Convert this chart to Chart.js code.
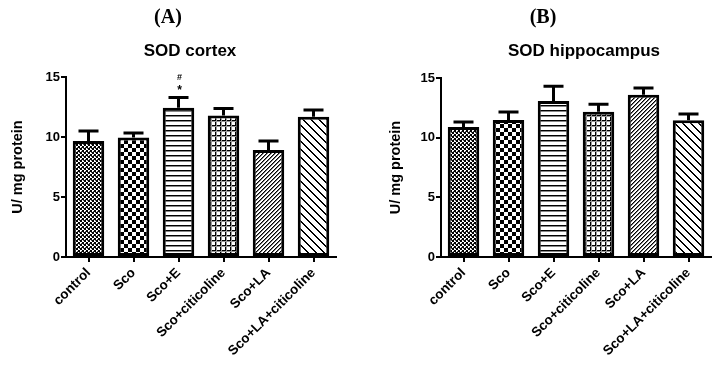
<!DOCTYPE html>
<html>
<head>
<meta charset="utf-8">
<script src="https://cdn.jsdelivr.net/npm/chart.js@4.4.1/dist/chart.umd.min.js"></script>
<style>
  html, body { margin: 0; padding: 0; background: #fff; }
  #wrap { position: relative; width: 723px; height: 365px; overflow: hidden; }
  canvas { position: absolute; top: 0; }
  .panel, .title { position: absolute; transform: translate(-50%, -50%); white-space: nowrap; color: #000; }
  .panel { font: bold 20px "Liberation Serif", "DejaVu Serif", serif; }
  .title { font: bold 17px "Liberation Sans", Arial, sans-serif; }
</style>
</head>
<body>
<div id="wrap">
  <canvas id="cortex" width="360" height="365" style="left:0"></canvas>
  <canvas id="hippo" width="363" height="365" style="left:360px"></canvas>
  <div class="panel" style="left:168px; top:16px">(A)</div>
  <div class="panel" style="left:543px; top:16px">(B)</div>
  <div class="title" style="left:190px; top:51px">SOD cortex</div>
  <div class="title" style="left:584px; top:51px">SOD hippocampus</div>
</div>
<script>
document.addEventListener("DOMContentLoaded", function(event) {
if (typeof Chart === 'undefined') {
  console.error('Chart.js is not loaded.');
  return;
}

// data
const categories = ['control', 'Sco', 'Sco+E', 'Sco+citicoline', 'Sco+LA', 'Sco+LA+citicoline'];
const cortexMeans = [9.67, 9.95, 12.43, 11.79, 8.92, 11.68];
const cortexErrors = [0.83, 0.39, 0.87, 0.58, 0.75, 0.58];
const cortexMarks = [[], [], ['*', '#'], [], [], []];
const hippoMeans = [10.89, 11.48, 13.07, 12.17, 13.60, 11.45];
const hippoErrors = [0.42, 0.67, 1.23, 0.62, 0.56, 0.53];
const hippoMarks = [[], [], [], [], [], []];
const yTicks = [0, 5, 10, 15];
const yTitle = 'U/ mg protein';

// fill patterns, one per group
function makePattern(w, h, draw) {
  const c = document.createElement('canvas');
  c.width = w;
  c.height = h;
  const g = c.getContext('2d');
  g.fillStyle = '#fff';
  g.fillRect(0, 0, w, h);
  g.fillStyle = '#000';
  draw(g);
  return g.createPattern(c, 'repeat');
}

const patterns = [
  makePattern(4, 4, g => {
    g.fillRect(0, 0, 2, 2);
    g.fillRect(2, 2, 2, 2);
    g.fillStyle = '#555';
    g.fillRect(3, 0, 1, 1);
    g.fillRect(1, 3, 1, 1);
  }),
  makePattern(8, 8, g => {
    g.fillRect(0, 0, 4, 4);
    g.fillRect(4, 4, 4, 4);
  }),
  makePattern(4, 5, g => {
    g.fillRect(0, 0, 4, 1);
    g.fillStyle = '#888';
    g.fillRect(0, 1, 4, 1);
  }),
  makePattern(5, 5, g => {
    g.fillRect(0, 0, 5, 1);
    g.fillRect(0, 0, 1, 5);
    g.fillStyle = '#999';
    g.fillRect(0, 1, 5, 1);
    g.fillRect(1, 0, 1, 5);
  }),
  makePattern(4, 4, g => {
    for (let x = 0; x < 4; x++) {
      g.fillRect(x, (3 - x + 4) % 4, 1, 1);
    }
    g.fillStyle = '#777';
    for (let x = 0; x < 4; x++) {
      g.fillRect(x, (4 - x) % 4, 1, 1);
    }
  }),
  makePattern(8, 8, g => {
    for (let x = 0; x < 8; x++) {
      g.fillRect(x, x, 1, 1);
      g.fillRect(x, (x + 1) % 8, 1, 1);
    }
  })
];

const errorBars = {
  id: 'errorBars',
  afterDatasetsDraw(chart, args, opts) {
    const ctx = chart.ctx;
    const y = chart.scales.y;
    const meta = chart.getDatasetMeta(0);
    ctx.save();
    ctx.strokeStyle = '#000';
    ctx.lineWidth = 3;
    ctx.fillStyle = '#000';
    ctx.textAlign = 'center';
    ctx.textBaseline = 'middle';
    meta.data.forEach((bar, i) => {
      const top = y.getPixelForValue(opts.means[i] + opts.errors[i]);
      const base = y.getPixelForValue(opts.means[i]);
      ctx.beginPath();
      ctx.moveTo(bar.x, base);
      ctx.lineTo(bar.x, top);
      ctx.moveTo(bar.x - 10, top);
      ctx.lineTo(bar.x + 10, top);
      ctx.stroke();
      opts.marks[i].forEach((m, k) => {
        ctx.font = m === '*' ? 'bold 12px "Liberation Sans", Arial, sans-serif' : 'bold 9px "Liberation Sans", Arial, sans-serif';
        ctx.fillText(m, bar.x + 1, top - 7 - k * 13);
      });
    });
    ctx.restore();
  }
};

function renderChart(id, means, errors, marks, area) {
  const ctx = document.getElementById(id).getContext('2d');
  return new Chart(ctx, {
    type: 'bar',
    data: {
      labels: categories,
      datasets: [{
        data: means,
        backgroundColor: patterns,
        borderColor: '#000',
        borderWidth: 3,
        borderSkipped: false,
        categoryPercentage: 1,
        barPercentage: 0.7
      }]
    },
    options: {
      responsive: false,
      animation: false,
      devicePixelRatio: 1,
      layout: { padding: { top: area.top, right: area.right, left: 0, bottom: 0 } },
      plugins: {
        legend: { display: false },
        tooltip: { enabled: false },
        errorBars: { means: means, errors: errors, marks: marks }
      },
      scales: {
        x: {
          afterFit(axis) { axis.height = 365 - area.bottom; },
          grid: { offset: false, drawOnChartArea: false, drawTicks: true, tickLength: 5, color: '#000', lineWidth: 2 },
          border: { color: '#000', width: 2 },
          ticks: {
            autoSkip: false, maxRotation: 45, minRotation: 45, padding: 3, color: '#000',
            font: { family: '"Liberation Sans", Arial, sans-serif', size: 13.5, weight: 'bold' }
          }
        },
        y: {
          min: 0,
          max: 15,
          afterFit(axis) { axis.width = area.left; },
          afterBuildTicks(axis) { axis.ticks = yTicks.map(v => ({ value: v })); },
          grid: { drawOnChartArea: false, drawTicks: true, tickLength: 5, color: '#000', lineWidth: 2 },
          border: { color: '#000', width: 2 },
          ticks: {
            padding: 1, color: '#000',
            font: { family: '"Liberation Sans", Arial, sans-serif', size: 13, weight: 'bold' }
          },
          title: {
            display: true, text: yTitle, color: '#000', padding: { top: area.titleTop, bottom: 0 },
            font: { family: '"Liberation Sans", Arial, sans-serif', size: 14.5, weight: 'bold' }
          }
        }
      }
    },
    plugins: [errorBars]
  });
}

renderChart('cortex', cortexMeans, cortexErrors, cortexMarks, { left: 66, right: 24, top: 77, bottom: 257, titleTop: 9 });
renderChart('hippo', hippoMeans, hippoErrors, hippoMarks, { left: 81, right: 12, top: 78, bottom: 257, titleTop: 27 });
});
</script>
</body>
</html>
